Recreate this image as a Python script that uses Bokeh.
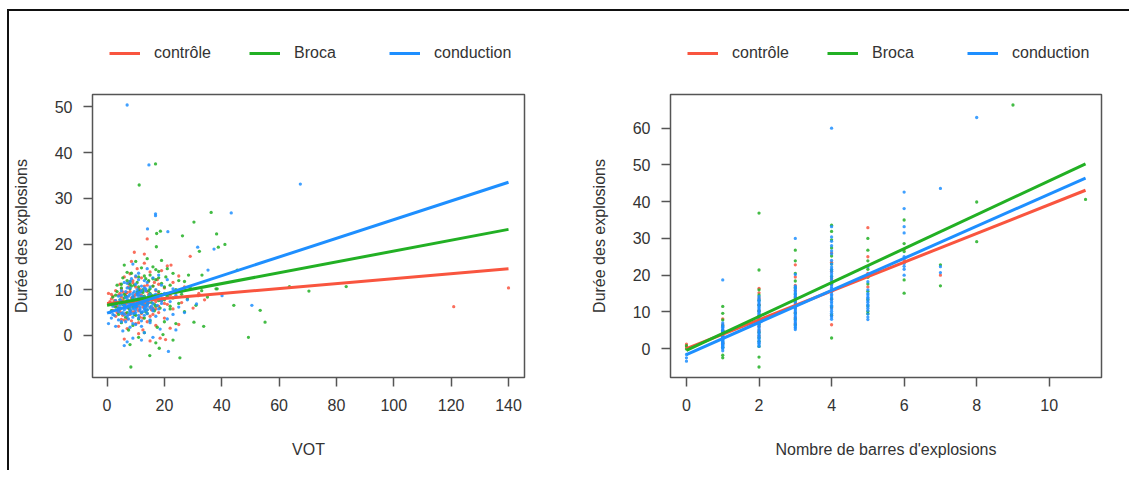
from bokeh.plotting import figure
from bokeh.layouts import row, column
from bokeh.models import Range1d, FixedTicker, Legend, LegendItem
from bokeh.embed import file_html
from bokeh.resources import INLINE

# ---------------- data: left panel (VOT) ----------------
vot_ctrl_x = [0.5,1,1.5,2,2.5,3,3,3.5,4,4,4.5,5,5,5.5,6,6,6.5,7,7,7.5,8,8,8.5,9,9,9.5,10,10,10.5,11,11,11.5,12,12,12.5,13,13,13.5,14,14,14.5,15,15,15.5,16,16,17,17,17.5,18,18,19,19,20,20,21,21,22,22,23,23,24,25,25,26,27,28,30,32,34,13,11,8.5,6,15,18.5,2,1,3.5,4.5,5.5,6.5,7.5,8.5,9.5,10.5,11.5,12.5,13.5,14.5,
              3,4,5,6,7,8,9,10,11,12,13,14,15,16,17,18,19,4.5,5.5,6.5,7.5,8.5,9.5,10.5,11.5,12.5,13.5,14.5,15.5,16.5,3.5,5,7,9,11,13,15,17,6,8,10,12,14,16,18,20,2.5,1.5,
              120.9,140,22.3,9.5,14,29,31.8,20.4]
vot_ctrl_y = [9.2,6.8,8.0,5.5,7.6,9.8,4.2,6.5,8.8,2.0,11.2,6.0,3.5,9.5,7.2,12.8,4.8,8.5,1.5,10.6,6.3,13.5,3.2,7.8,11.5,5.2,9.0,2.6,14.6,6.6,10.2,4.0,8.2,12.6,1.2,7.0,15.8,5.6,9.6,3.0,11.8,6.2,13.9,8.6,4.6,10.8,7.4,2.2,12.2,9.2,5.0,14.2,7.6,3.8,10.4,6.8,15.2,8.8,1.6,11.6,5.8,9.4,13.0,2.4,7.2,10.6,8.4,6.0,9.2,7.8,17.8,0.4,16.2,-0.8,-1.2,-0.6,8.6,7.4,7.2,5.2,7.8,9.2,6.0,8.2,6.6,7.6,8.8,6.2,9.8,7.2,
              7.6,5.8,8.4,6.2,9.4,4.6,7.0,10.6,5.4,8.8,6.6,11.0,4.2,7.8,9.8,6.4,8.0,9.2,4.4,6.8,11.4,5.2,8.6,6.0,10.0,3.8,7.4,9.0,5.6,11.6,5.0,10.2,3.6,12.0,2.8,10.8,8.2,5.8,3.4,9.6,12.8,4.8,8.0,6.0,11.2,7.0,6.4,9.0,
              6.3,10.4,15.4,18.2,21.1,17.3,8.7,-0.9]

vot_broca_x = [1,1.5,2,3,3.5,4,4.5,5,5,5.5,6,6,6.5,7,7,7.5,8,8,8.5,9,9,9.5,10,10,10.5,11,11,11.5,12,12,12.5,13,13,13.5,14,14,14.5,15,15,15.5,16,16,16.5,17,17,17.5,18,18,18.5,19,19,20,20,20.5,21,21,22,22,23,23,24,24,25,25,26,27,27,28,29,31,33,35,38,17,11,8,23,19.5,
               3,4,5,6,7,8,9,10,11,12,13,14,15,16,17,18,19,4.5,5.5,6.5,7.5,8.5,9.5,10.5,11.5,12.5,13.5,14.5,15.5,16.5,3.5,5,7,9,11,13,15,17,6,8,10,12,14,16,18,20,21,22,
               16.9,11.2,36.3,30.3,17.3,18.6,26.3,38.2,83.4,70.4,63.6,44.2,53.4,55.1,49.3,33.7,30.3,8.3,25.4,14.9,18.2,38.8,41.1,32.2,33.1,28.4,38.4,45.4,17.2]
vot_broca_y = [7.0,5.4,8.4,6.2,9.6,4.6,7.8,11.2,2.8,6.8,9.0,15.4,4.0,12.0,7.4,1.2,10.2,5.6,13.6,8.0,2.2,11.0,6.4,16.2,9.4,3.6,12.8,7.6,14.8,5.0,10.0,8.6,0.6,12.4,6.8,16.8,9.8,3.2,13.2,7.2,10.8,15.0,5.4,12.2,8.4,1.8,14.0,9.6,6.0,11.4,16.4,7.8,3.0,12.8,9.2,14.6,5.8,11.0,8.2,13.6,10.0,2.6,7.0,12.0,9.0,5.2,11.8,8.0,10.4,6.6,9.8,8.4,10.2,-1.6,-0.4,-2.0,-1.0,0.2,
               8.8,6.0,10.4,7.2,5.0,11.8,8.4,4.4,9.8,7.0,13.0,5.6,10.2,8.0,6.4,12.6,9.0,5.8,12.6,8.6,6.0,10.8,4.6,11.6,7.8,9.4,5.2,12.0,8.8,6.8,11.0,7.4,13.8,6.2,10.6,3.8,9.2,14.4,8.2,11.2,6.8,9.6,4.8,12.4,7.6,10.6,8.6,6.4,
               37.5,32.9,26.9,24.8,22.3,22.8,21.8,22.2,10.7,9.7,10.7,6.6,5.5,2.9,-0.4,2.0,2.9,-6.9,-4.9,-4.4,-2.8,19.3,19.9,18.4,13.2,13.2,10.2,14.3,19.4]

vot_cond_x = [0.5,1,1.5,2,2.5,3,3,3.5,4,4,4.5,5,5,5.5,5.5,6,6,6.5,6.5,7,7,7,7.5,7.5,8,8,8,8.5,8.5,9,9,9,9.5,9.5,10,10,10,10,10.5,10.5,11,11,11,11.5,11.5,12,12,12,12.5,12.5,13,13,13,13.5,13.5,14,14,14,14.5,15,15,15,15.5,16,16,16.5,17,17,17.5,18,18,18.5,19,19,20,20,21,21,22,23,23,24,25,26,27,28,6,9,12,16,24,2,4,6,8,10,12,14,16,18,11,9,13,
              4,5,6,7,8,9,10,11,12,13,14,15,16,4.5,5.5,6.5,7.5,8.5,9.5,10.5,11.5,12.5,13.5,14.5,15.5,5,6,7,8,9,10,11,12,13,14,15,6.5,7.5,8.5,9.5,10.5,11.5,12.5,13.5,7,8,9,10,11,12,13,3,5,7,9,11,13,15,17,19,8,10,12,14,9.5,10.5,11,12,7.5,13,
              7,14.6,67.4,16.9,16.9,43.3,14.1,21.2,50.5,21.4,37.3,31.6,35.2,31.2,40.1]
vot_cond_y = [2.6,5.0,3.8,6.4,4.4,7.6,2.0,5.6,8.6,3.4,6.6,4.8,9.8,1.0,7.0,5.6,11.6,3.0,8.4,6.2,-1.4,10.4,4.6,7.6,5.4,9.0,1.8,6.8,12.4,4.0,7.4,15.6,6.0,9.6,5.0,7.8,2.4,11.2,6.4,8.8,4.4,7.2,13.6,5.8,9.4,6.8,3.2,10.8,7.6,5.2,8.4,0.6,12.0,6.2,9.8,4.8,7.4,14.6,8.6,6.0,10.6,2.8,7.8,5.4,12.6,8.8,4.2,10.0,6.6,8.0,13.2,1.4,7.0,11.0,5.6,9.2,3.6,12.2,7.4,10.2,4.6,8.8,6.2,9.6,5.0,7.8,-2.2,-0.6,-1.0,-0.4,1.2,4.6,6.0,6.8,7.2,6.6,7.4,6.4,7.0,5.8,8.2,8.6,5.8,
              5.2,7.4,4.6,8.0,6.0,9.2,5.6,7.0,8.6,4.4,6.8,9.0,5.8,7.8,5.0,9.6,3.6,7.6,4.8,10.0,6.2,8.2,5.4,7.2,6.4,8.8,6.6,4.2,10.4,5.8,8.0,3.8,9.8,7.4,5.6,8.4,6.0,8.6,4.8,7.0,9.2,5.4,6.8,10.2,7.2,5.2,8.2,6.2,9.4,7.8,6.6,6.8,3.0,11.4,2.6,12.2,10.4,3.4,9.0,7.6,11.8,13.0,2.0,11.6,6.4,7.6,8.8,5.0,7.0,6.0,
              50.4,37.3,33.1,26.2,26.6,26.8,23.3,22.7,6.6,-3.5,18.9,19.3,14.3,6.9,8.7]

# fitted lines (VOT panel)
vot_fit_x = [0, 140]
vot_fit_ctrl = [7.0, 14.6]
vot_fit_broca = [6.6, 23.2]
vot_fit_cond = [4.9, 33.5]

# ---------------- data: right panel (bars) ----------------
bar_ctrl_x = [0,0, 1,1,1,1,1,1,1, 2,2,2,2,2,2,2,2,2,2, 3,3,3,3,3,3,3,3,3,3, 4,4,4,4,4,4,4,4,4,4, 5,5,5,5, 6,6, 7]
bar_ctrl_y = [0.5,1.2, 8.1,6.5,5.0,3.8,2.6,1.5,4.4, 16.4,15.2,13.8,12.0,10.4,9.0,7.6,6.0,4.8,3.5,
              22.8,19.5,17.2,15.8,14.0,12.6,11.0,9.8,8.4,6.8, 26.0,23.5,21.0,19.0,17.4,15.6,13.4,11.2,9.0,6.5,
              32.9,25.0,20.5,16.8, 27.0,24.2, 20.0]

bar_broca_x = [0,0, 1,1,1,1,1,1,1,1,1,1, 2,2,2,2,2,2,2,2,2,2,2,2,2,2,2, 3,3,3,3,3,3,3,3,3,3,3,
               4,4,4,4,4,4,4,4,4,4,4,4,4,4, 5,5,5,5,5,5,5,5,5,5,5, 6,6,6,6,6, 7,7, 8,8, 9, 11]
bar_broca_y = [-0.1,0.8, 11.5,9.6,7.8,6.2,4.8,3.0,1.6,0.4,-1.8,-2.5,
               36.9,21.4,16.0,14.6,13.2,11.8,10.2,8.8,6.6,4.4,3.0,2.0,0.6,-2.3,-5.0,
               26.8,23.9,20.5,18.4,16.6,14.8,13.0,11.4,9.6,8.0,6.4,
               33.6,31.9,29.6,27.4,25.2,23.0,21.4,19.6,17.8,15.8,13.6,11.4,9.2,2.9,
               30.0,26.8,23.9,21.6,19.4,17.6,15.6,13.4,11.6,10.1,9.5,
               35.0,28.6,26.4,18.7,15.1, 22.8,17.1, 39.9,29.1, 66.3, 40.6]

bar_cond_x = [0,0,0, 1,1,1,1,1,1,1,1,1,1,1,1,1, 2,2,2,2,2,2,2,2,2,2,2,2,2,2,2,2,2,
              3,3,3,3,3,3,3,3,3,3,3,3,3,3,3,3,3,3, 4,4,4,4,4,4,4,4,4,4,4,4,4,4,4,4,4,4,4,4,
              5,5,5,5,5,5,5,5,5, 6,6,6,6,6,6,6,6,6, 7,7,7, 8,
              1,1,1,1,1,1,1,1,1,1,1,1,1,1,1,1,1,1,1,
              2,2,2,2,2,2,2,2,2,2,2,2,2,2,2,2,2,2,
              3,3,3,3,3,3,3,3,3,3,3,3,3,3,3,
              4,4,4,4,4,4,4,4,4,4,4,4,4,4,4,4,
              5,5,5,5,5,5,5]
bar_cond_y = [-3.4,-2.5,-1.6,
              18.7,6.0,5.4,4.8,4.2,3.6,3.0,2.4,1.8,1.2,0.7,0.2,-0.6,
              14.2,13.2,12.4,11.6,10.8,10.0,9.2,8.4,7.6,6.8,6.0,5.2,4.4,3.6,2.8,1.6,0.6,
              30.0,20.2,17.0,16.2,15.4,14.6,13.8,13.0,12.2,11.4,10.6,9.8,9.0,8.2,7.4,6.6,5.8,5.2,
              60.0,33.2,30.4,28.0,25.8,24.0,22.2,21.0,19.8,18.6,17.4,16.4,15.4,14.4,13.4,12.4,11.4,10.2,9.0,8.0,
              22.3,18.2,16.0,15.0,14.0,13.0,12.0,11.0,7.9,
              42.6,38.1,33.2,31.5,25.0,23.2,21.6,20.0,22.4,
              43.6,22.3,20.7, 62.9,
              0.0,0.4,0.8,1.0,1.4,1.6,2.0,2.2,2.6,2.8,3.2,3.4,3.8,4.0,4.6,5.0,5.8,6.4,7.0,
              1.0,1.4,2.0,2.4,3.2,4.0,4.8,5.6,6.4,7.2,8.0,8.8,9.6,10.4,11.2,12.0,12.8,13.6,
              5.6,6.2,7.0,7.8,8.6,9.4,10.2,11.0,11.8,12.6,13.4,14.2,15.0,15.8,16.6,
              8.6,9.6,10.8,11.8,12.8,13.8,14.8,15.8,16.8,18.0,19.2,20.4,21.6,23.0,26.6,29.2,
              8.6,9.4,10.4,11.6,12.6,13.6,14.6]

bar_fit_x = [0, 11]
bar_fit_ctrl = [0.0, 43.1]
bar_fit_broca = [-0.5, 50.3]
bar_fit_cond = [-1.6, 46.4]

groups = ["contrôle", "Broca", "conduction"]
vot_ticks = [0, 20, 40, 60, 80, 100, 120, 140]
vot_yticks = [0, 10, 20, 30, 40, 50]
bar_ticks = [0, 2, 4, 6, 8, 10]
bar_yticks = [0, 10, 20, 30, 40, 50, 60]

COLORS = ["#F9553F", "#22B024", "#1E8FFF"]
FONT = "Liberation Sans"
TXT = "#333333"
FRAME = "#555555"
LEG_H = 80
NAN = float("nan")


def rng(vals):
    lo, hi = min(vals), max(vals)
    d = (hi - lo) * 0.04
    return Range1d(lo - d, hi + d)


def make(xs, ys, fit_x, fits, xlabel, xticks, yticks, bl, br, fw):
    allx = [v for x in xs for v in x]
    ally = [v for y in ys for v in y]
    p = figure(frame_width=fw, frame_height=283,
               min_border_left=bl, min_border_right=br, min_border_top=3, min_border_bottom=93,
               x_range=rng(allx), y_range=rng(ally),
               output_backend="svg", toolbar_location=None,
               background_fill_color="white", border_fill_color="white")
    p.grid.visible = False
    p.outline_line_color = FRAME
    p.outline_line_width = 1.5
    for ax in (p.xaxis[0], p.yaxis[0]):
        ax.axis_line_color = None
        ax.major_tick_line_color = FRAME
        ax.major_tick_line_width = 1.5
        ax.major_tick_out = 9
        ax.major_tick_in = 0
        ax.minor_tick_line_color = None
        ax.major_label_text_font = FONT
        ax.major_label_text_font_size = "16px"
        ax.major_label_text_color = TXT
        ax.axis_label_text_font = FONT
        ax.axis_label_text_font_size = "16px"
        ax.axis_label_text_font_style = "normal"
        ax.axis_label_text_color = TXT
    p.xaxis[0].ticker = FixedTicker(ticks=xticks)
    p.yaxis[0].ticker = FixedTicker(ticks=yticks)
    p.xaxis[0].axis_label = xlabel
    p.yaxis[0].axis_label = "Durée des explosions"
    p.xaxis[0].major_label_standoff = 12
    p.yaxis[0].major_label_standoff = 11
    p.xaxis[0].axis_label_standoff = 27
    p.yaxis[0].axis_label_standoff = 22

    for x, y, c in zip(xs, ys, COLORS):
        p.scatter(x, y, size=3.3, marker="circle", fill_color=c, line_color=None, fill_alpha=0.85)
    for fy, c in zip(fits, COLORS):
        p.line(fit_x, fy, line_color=c, line_width=3)

    # legend strip above the panel (its own small figure, so the legend is not clipped)
    lf = figure(width=bl + fw + br, height=LEG_H, min_border=0, output_backend="svg",
                toolbar_location=None, x_axis_location=None, y_axis_location=None,
                x_range=Range1d(0, 1), y_range=Range1d(0, 1),
                background_fill_color="white", border_fill_color="white")
    lf.grid.visible = False
    lf.outline_line_color = None
    items = []
    for c, g in zip(COLORS, groups):
        r = lf.line(x=[NAN], y=[NAN], line_color=c, line_width=3)
        items.append(LegendItem(label=g, renderers=[r]))
    leg = Legend(items=items, orientation="horizontal", location=(17, 28),
                 padding=0, margin=0, spacing=15, glyph_width=31, glyph_height=20,
                 label_standoff=14, label_width=80, label_height=20,
                 label_text_font=FONT, label_text_font_size="16px", label_text_color=TXT,
                 border_line_color=None, background_fill_alpha=0)
    lf.add_layout(leg)
    return column(lf, p, spacing=0)


c1 = make([vot_ctrl_x, vot_broca_x, vot_cond_x], [vot_ctrl_y, vot_broca_y, vot_cond_y],
          vot_fit_x, [vot_fit_ctrl, vot_fit_broca, vot_fit_cond], "VOT", vot_ticks, vot_yticks, 83, 46, 432)
c2 = make([bar_ctrl_x, bar_broca_x, bar_cond_x], [bar_ctrl_y, bar_broca_y, bar_cond_y],
          bar_fit_x, [bar_fit_ctrl, bar_fit_broca, bar_fit_cond], "Nombre de barres d'explosions",
          bar_ticks, bar_yticks, 100, 28, 431)

layout = row(c1, c2, spacing=0,
             styles={"margin-top": "9px", "margin-left": "7px",
                     "border-top": "2px solid #111111", "border-left": "2px solid #111111"})
open("out.html", "w").write(file_html(layout, INLINE))
